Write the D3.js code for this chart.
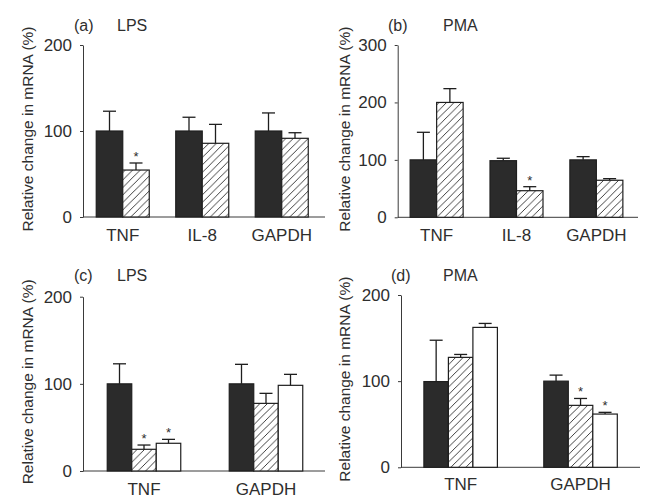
<!DOCTYPE html>
<html><head><meta charset="utf-8">
<script src="https://cdn.jsdelivr.net/npm/d3@7/dist/d3.min.js"></script>
<style>
html,body{margin:0;padding:0;background:#fff;}
svg{display:block;}
text{font-family:"Liberation Sans",Arial,Helvetica,sans-serif;fill:#2e2e2e;}
</style></head>
<body>
<svg id="chart" width="650" height="499"></svg>
<script>
// ---------- data ----------
const seriesNames = ["control", "treatment1", "treatment2"];
const yTicksA = [0, 100, 200];
const yTicksB = [0, 100, 200, 300];

// (a) LPS
const catsA = ["TNF", "IL-8", "GAPDH"];
const aControl = [100, 100, 100];
const aControlErr = [23, 16, 21];
const aTreat1 = [54.6, 85.7, 91.5];
const aTreat1Err = [8.2, 22, 6.5];
const aStars1 = [true, false, false];

// (b) PMA
const catsB = ["TNF", "IL-8", "GAPDH"];
const bControl = [100, 98.6, 100];
const bControlErr = [48, 4.2, 5.6];
const bTreat1 = [200, 46.3, 64.5];
const bTreat1Err = [24, 7, 2.8];
const bStars1 = [false, true, false];

// (c) LPS
const catsC = ["TNF", "GAPDH"];
const cControl = [100, 100];
const cControlErr = [23, 22.4];
const cTreat1 = [24.9, 77.6];
const cTreat1Err = [4.9, 11.5];
const cTreat2 = [31.8, 98.3];
const cTreat2Err = [4.5, 12.6];
const cStars1 = [true, false];
const cStars2 = [true, false];

// (d) PMA
const catsD = ["TNF", "GAPDH"];
const dControl = [99.5, 100];
const dControlErr = [48, 7];
const dTreat1 = [127.6, 71.9];
const dTreat1Err = [3.4, 8];
const dTreat2 = [162.4, 61.8];
const dTreat2Err = [4.6, 2];
const dStars1 = [false, true];
const dStars2 = [false, true];

const yLabel = "Relative change in mRNA (%)";

// ---------- drawing ----------
const svg = d3.select("#chart");
const defs = svg.append("defs");
const pat = defs.append("pattern").attr("id", "hatch")
  .attr("patternUnits", "userSpaceOnUse").attr("width", 7.5).attr("height", 7.5);
pat.append("rect").attr("width", 7.5).attr("height", 7.5).attr("fill", "#fff");
pat.append("path").attr("d", "M0,7.5 L7.5,0 M-2,2 L2,-2 M5.5,9.5 L9.5,5.5")
  .attr("stroke", "#2a2a2a").attr("stroke-width", 0.9);

const fills = {control: "#2b2b2b", treatment1: "url(#hatch)", treatment2: "#fff"};

function buildRows(cats, sets) {
  return cats.map((c, i) => ({
    cat: c,
    bars: sets.map(s => ({name: s.name, v: s.v[i], e: s.e[i], star: s.star ? s.star[i] : false}))
  }));
}

const panels = [
  {letter: "(a)", title: "LPS", cats: catsA, ticks: yTicksA, yMax: 200,
   x0: 83, xEnd: 325, y0: 217, yTop: 45, bandRange: [83, 321.5], barW: 26.5,
   letterX: 74, titleX: 117, titleY: 31, ylabX: 33, labDy: 24,
   rows: buildRows(catsA, [
     {name: "control", v: aControl, e: aControlErr},
     {name: "treatment1", v: aTreat1, e: aTreat1Err, star: aStars1}])},
  {letter: "(b)", title: "PMA", cats: catsB, ticks: yTicksB, yMax: 300,
   x0: 397.7, xEnd: 638, y0: 217.3, yTop: 45, bandRange: [396.7, 636.3], barW: 26.5,
   letterX: 388, titleX: 443, titleY: 31, ylabX: 350, labDy: 24,
   rows: buildRows(catsB, [
     {name: "control", v: bControl, e: bControlErr},
     {name: "treatment1", v: bTreat1, e: bTreat1Err, star: bStars1}])},
  {letter: "(c)", title: "LPS", cats: catsC, ticks: yTicksA, yMax: 200,
   x0: 83, xEnd: 325, y0: 471, yTop: 296.7, bandRange: [83, 327], barW: 24.5,
   letterX: 74, titleX: 117, titleY: 281, ylabX: 33, labDy: 24,
   rows: buildRows(catsC, [
     {name: "control", v: cControl, e: cControlErr},
     {name: "treatment1", v: cTreat1, e: cTreat1Err, star: cStars1},
     {name: "treatment2", v: cTreat2, e: cTreat2Err, star: cStars2}])},
  {letter: "(d)", title: "PMA", cats: catsD, ticks: yTicksA, yMax: 200,
   x0: 401, xEnd: 640, y0: 467.3, yTop: 295, bandRange: [400.7, 640.5], barW: 24.5,
   letterX: 391, titleX: 443, titleY: 281, ylabX: 350, labDy: 23,
   rows: buildRows(catsD, [
     {name: "control", v: dControl, e: dControlErr},
     {name: "treatment1", v: dTreat1, e: dTreat1Err, star: dStars1},
     {name: "treatment2", v: dTreat2, e: dTreat2Err, star: dStars2}])}
];

panels.forEach(p => {
  const g = svg.append("g");
  const y = d3.scaleLinear().domain([0, p.yMax]).range([p.y0, p.yTop]);
  const x = d3.scaleBand().domain(p.cats).range(p.bandRange).padding(0);
  const nSeries = p.rows[0].bars.length;
  const xi = d3.scaleBand().domain(seriesNames.slice(0, nSeries))
    .range([-p.barW * nSeries / 2, p.barW * nSeries / 2]).padding(0);

  // y axis
  const ya = g.append("g").attr("transform", `translate(${p.x0},0)`)
    .call(d3.axisLeft(y).tickValues(p.ticks).tickSize(3).tickSizeOuter(0).tickPadding(8));
  ya.select(".domain").attr("stroke", "#3a3a3a");
  ya.selectAll(".tick line").attr("stroke", "#3a3a3a");
  ya.selectAll(".tick text").style("font-size", "17px").attr("fill", "#2e2e2e")
    .style("font-family", '"Liberation Sans",Arial,sans-serif');

  // x axis line
  g.append("line").attr("x1", p.x0).attr("x2", p.xEnd).attr("y1", p.y0).attr("y2", p.y0)
    .attr("stroke", "#3a3a3a").attr("stroke-width", 1);
  // category labels
  g.selectAll("text.cat").data(p.cats).join("text").attr("class", "cat")
    .attr("x", d => x(d) + x.bandwidth() / 2).attr("y", p.y0 + p.labDy)
    .attr("text-anchor", "middle").style("font-size", "17px").text(d => d);

  // bars
  p.rows.forEach(r => {
    const cx = x(r.cat) + x.bandwidth() / 2;
    const bg = g.append("g").attr("transform", `translate(${cx},0)`);
    bg.selectAll("rect").data(r.bars).join("rect")
      .attr("x", d => xi(d.name)).attr("width", xi.bandwidth())
      .attr("y", d => y(d.v)).attr("height", d => p.y0 - y(d.v))
      .attr("fill", d => fills[d.name]).attr("stroke", "#1e1e1e").attr("stroke-width", 1.2);
    // error bars
    bg.selectAll("line.err").data(r.bars).join("line").attr("class", "err")
      .attr("x1", d => xi(d.name) + xi.bandwidth() / 2).attr("x2", d => xi(d.name) + xi.bandwidth() / 2)
      .attr("y1", d => y(d.v)).attr("y2", d => y(d.v + d.e))
      .attr("stroke", "#1e1e1e").attr("stroke-width", 1.3);
    bg.selectAll("line.cap").data(r.bars).join("line").attr("class", "cap")
      .attr("x1", d => xi(d.name) + xi.bandwidth() / 2 - 6.5).attr("x2", d => xi(d.name) + xi.bandwidth() / 2 + 6.5)
      .attr("y1", d => y(d.v + d.e)).attr("y2", d => y(d.v + d.e))
      .attr("stroke", "#1e1e1e").attr("stroke-width", 1.3);
    bg.selectAll("text.star").data(r.bars.filter(d => d.star)).join("text").attr("class", "star")
      .attr("x", d => xi(d.name) + xi.bandwidth() / 2).attr("y", d => y(d.v + d.e) - 2)
      .attr("text-anchor", "middle").style("font-size", "13px").text("*");
  });

  // titles
  g.append("text").attr("x", p.letterX).attr("y", p.titleY).style("font-size", "16px").text(p.letter);
  g.append("text").attr("x", p.titleX).attr("y", p.titleY).style("font-size", "16px").text(p.title);
  // y label
  g.append("text").attr("transform", `translate(${p.ylabX},${(p.y0 + p.yTop) / 2 - 2}) rotate(-90)`)
    .attr("text-anchor", "middle").style("font-size", "15.5px").text(yLabel);
});
</script>
</body></html>
